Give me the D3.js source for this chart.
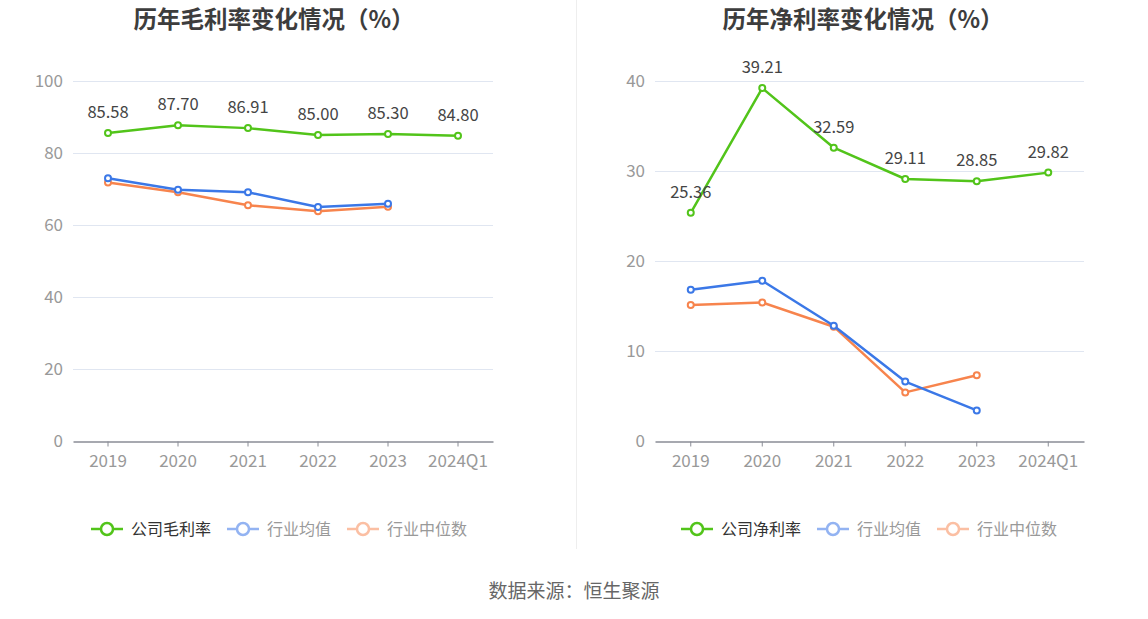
<!DOCTYPE html>
<html>
<head>
<meta charset="utf-8">
<script src="https://cdn.jsdelivr.net/npm/d3@7"></script>
<style>
    body { margin: 0; background: #fff; font-family: "Noto Sans CJK SC", "Noto Sans", sans-serif; }
    svg { display: block; }
</style>
</head>
<body>
<svg id="chart" width="1148" height="619"></svg>
<script>
const years = ["2019", "2020", "2021", "2022", "2023", "2024Q1"];

// 毛利率
const grossCompany = [85.58, 87.70, 86.91, 85.00, 85.30, 84.80];
const grossAvg = [73.0, 69.8, 69.1, 65.0, 65.9];
const grossMedian = [71.8, 69.1, 65.5, 63.8, 65.1];
const grossTicks = [0, 20, 40, 60, 80, 100];

// 净利率
const netCompany = [25.36, 39.21, 32.59, 29.11, 28.85, 29.82];
const netAvg = [16.8, 17.8, 12.8, 6.6, 3.4];
const netMedian = [15.1, 15.4, 12.7, 5.4, 7.3];
const netTicks = [0, 10, 20, 30, 40];

const colors = { company: "#52c41a", avg: "#3b78e7", median: "#f7844d" };
const faded = { avg: "#93b3f2", median: "#fbbfa3" };

const svg = d3.select("#chart");

// divider between the two panels
svg.append("line")
    .attr("x1", 576.5).attr("x2", 576.5)
    .attr("y1", 0).attr("y2", 549)
    .attr("stroke", "#eeeeee");

svg.append("text")
    .attr("x", 574).attr("y", 598)
    .attr("text-anchor", "middle")
    .attr("font-size", 19)
    .attr("fill", "#666")
    .text("数据来源：恒生聚源");

function drawPanel(opt) {
    const g = svg.append("g");

    g.append("text")
        .attr("x", opt.titleX).attr("y", 28)
        .attr("text-anchor", "middle")
        .attr("font-size", 23.5)
        .attr("font-weight", "bold")
        .attr("fill", "#3d3d3d")
        .text(opt.title);

    const x = d3.scaleBand().domain(years).range([opt.left, opt.right]);
    const y = d3.scaleLinear().domain([0, d3.max(opt.ticks)]).range([441, 81]);
    const cx = d => x(d) + x.bandwidth() / 2;

    // grid
    g.selectAll(".grid")
        .data(opt.ticks.filter(t => t > 0))
        .enter().append("line")
        .attr("x1", opt.left).attr("x2", opt.right)
        .attr("y1", d => Math.round(y(d)) + 0.5).attr("y2", d => Math.round(y(d)) + 0.5)
        .attr("stroke", "#e0e6f1");

    // y labels
    g.selectAll(".ylab")
        .data(opt.ticks)
        .enter().append("text")
        .attr("x", opt.left - 10).attr("y", d => y(d) + 6)
        .attr("text-anchor", "end")
        .attr("font-size", 17)
        .attr("fill", "#999")
        .text(d => d);

    // x axis
    const xAxis = d3.axisBottom(x).tickSize(5).tickSizeOuter(0);
    const ax = g.append("g")
        .attr("transform", "translate(0,441.5)")
        .call(xAxis);
    ax.select(".domain").attr("stroke", "#8a8d96").attr("stroke-width", 1.5);
    ax.selectAll(".tick line").attr("stroke", "#8a8d96");
    ax.selectAll(".tick text")
        .attr("font-size", 17)
        .attr("fill", "#999")
        .attr("dy", "1.0em")
        .attr("font-family", "\"Noto Sans CJK SC\", sans-serif");

    const line = d3.line().x((d, i) => cx(years[i])).y(d => y(d));

    const series = [
        { key: "median", values: opt.median },
        { key: "avg", values: opt.avg },
        { key: "company", values: opt.company }
    ];

    series.forEach(s => {
        g.append("path")
            .datum(s.values)
            .attr("d", line)
            .attr("fill", "none")
            .attr("stroke", colors[s.key])
            .attr("stroke-width", 2.5)
            .attr("stroke-linejoin", "round");

        g.selectAll(".pt-" + s.key)
            .data(s.values)
            .enter().append("circle")
            .attr("cx", (d, i) => cx(years[i]))
            .attr("cy", d => y(d))
            .attr("r", 3)
            .attr("fill", "#fff")
            .attr("stroke", colors[s.key])
            .attr("stroke-width", 2);
    });

    g.selectAll(".vlab")
        .data(opt.company)
        .enter().append("text")
        .attr("x", (d, i) => cx(years[i]))
        .attr("y", d => y(d) - 15)
        .attr("text-anchor", "middle")
        .attr("font-size", 16.5)
        .attr("fill", "#444")
        .text(d => d.toFixed(2));

    // legend
    const items = [
        { name: opt.companyName, color: colors.company, text: "#333", w: 136 },
        { name: "行业均值", color: faded.avg, text: "#999", w: 120 },
        { name: "行业中位数", color: faded.median, text: "#999", w: 0 }
    ];
    let lx = opt.legendX;
    items.forEach(it => {
        const lg = g.append("g").attr("transform", `translate(${lx},529)`);
        lg.append("line")
            .attr("x1", 0).attr("x2", 32)
            .attr("stroke", it.color).attr("stroke-width", 2.5);
        lg.append("circle")
            .attr("cx", 16).attr("r", 6)
            .attr("fill", "#fff")
            .attr("stroke", it.color).attr("stroke-width", 2.5);
        lg.append("text")
            .attr("x", 40).attr("y", 6)
            .attr("font-size", 16)
            .attr("fill", it.text)
            .text(it.name);
        lx += it.w;
    });
}

drawPanel({
    title: "历年毛利率变化情况（%）", titleX: 274,
    left: 73, right: 493, ticks: grossTicks,
    company: grossCompany, avg: grossAvg, median: grossMedian,
    companyName: "公司毛利率", legendX: 91
});

drawPanel({
    title: "历年净利率变化情况（%）", titleX: 863,
    left: 655, right: 1084, ticks: netTicks,
    company: netCompany, avg: netAvg, median: netMedian,
    companyName: "公司净利率", legendX: 681
});
</script>
</body>
</html>
